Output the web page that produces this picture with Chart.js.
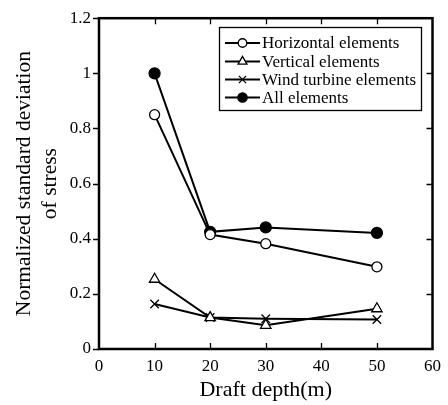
<!DOCTYPE html>
<html>
<head>
<meta charset="utf-8">
<script src="https://cdn.jsdelivr.net/npm/chart.js@4/dist/chart.umd.min.js"></script>
<style>
  html, body { margin: 0; padding: 0; background: #fff; }
  #wrap { width: 448px; height: 405px; }
</style>
</head>
<body>
<div id="wrap"><canvas id="chart" width="448" height="405"></canvas></div>
<script>
  // Draft depth (m) and normalized std of stress
  const depths = [10, 20, 30, 50];
  const horizontal = [0.85, 0.415, 0.382, 0.298];
  const vertical = [0.253, 0.114, 0.086, 0.146];
  const windTurbine = [0.163, 0.114, 0.110, 0.107];
  const allElements = [1.0, 0.425, 0.441, 0.421];

  const seriesLabels = [
    "Horizontal elements",
    "Vertical elements",
    "Wind turbine elements",
    "All elements",
  ];

  const xTicks = [0, 10, 20, 30, 40, 50, 60];
  const yTicks = [0, 0.2, 0.4, 0.6, 0.8, 1, 1.2];

  const SERIF = "'Liberation Serif', 'Times New Roman', serif";

  function toPoints(values) {
    return values.map((v, i) => ({ x: depths[i], y: v }));
  }

  const styles = [
    { pointStyle: "circle", pointRadius: 5, pointBackgroundColor: "#fff" },
    { pointStyle: "triangle", pointRadius: 6, pointBackgroundColor: "#fff" },
    { pointStyle: "crossRot", pointRadius: 6, pointBackgroundColor: "#fff" },
    { pointStyle: "circle", pointRadius: 5.5, pointBackgroundColor: "#000" },
  ];
  const seriesValues = [horizontal, vertical, windTurbine, allElements];

  const datasets = seriesValues.map((vals, i) => ({
    label: seriesLabels[i],
    data: toPoints(vals),
    borderColor: "#000",
    borderWidth: 2,
    pointBorderColor: "#000",
    pointBorderWidth: 1.3,
    pointStyle: styles[i].pointStyle,
    pointRadius: styles[i].pointRadius,
    pointBackgroundColor: styles[i].pointBackgroundColor,
    tension: 0,
    fill: false,
  }));

  // frame + tick marks (inward on top/right/bottom, outward on left)
  const framePlugin = {
    id: "frame",
    afterDraw(chart) {
      const { ctx, chartArea: a, scales } = chart;
      const tl = 6;
      ctx.save();
      ctx.strokeStyle = "#000";
      ctx.lineWidth = 1.3;
      ctx.beginPath();
      xTicks.forEach((v) => {
        const px = Math.round(scales.x.getPixelForValue(v)) + 0.5;
        if (v !== xTicks[0] && v !== xTicks[xTicks.length - 1]) {
          ctx.moveTo(px, a.bottom);
          ctx.lineTo(px, a.bottom - tl);
          ctx.moveTo(px, a.top);
          ctx.lineTo(px, a.top + tl);
        }
      });
      yTicks.forEach((v) => {
        const py = Math.round(scales.y.getPixelForValue(v)) + 0.5;
        ctx.moveTo(a.left, py);
        ctx.lineTo(a.left - tl, py);
        if (v !== yTicks[0] && v !== yTicks[yTicks.length - 1]) {
          ctx.moveTo(a.right, py);
          ctx.lineTo(a.right - tl, py);
        }
      });
      ctx.stroke();
      ctx.lineWidth = 2.5;
      ctx.strokeRect(a.left, a.top, a.right - a.left, a.bottom - a.top);
      ctx.restore();
    },
  };

  // boxed legend inside the plot, upper right
  const legendPlugin = {
    id: "boxLegend",
    afterDraw(chart) {
      const { ctx } = chart;
      const box = { x: 219, y: 27, w: 202, h: 83 };
      const rowY = [43, 61.5, 79.5, 97.5];
      ctx.save();
      ctx.fillStyle = "#fff";
      ctx.fillRect(box.x, box.y, box.w, box.h);
      ctx.strokeStyle = "#000";
      ctx.lineWidth = 1.3;
      ctx.strokeRect(box.x + 0.5, box.y + 0.5, box.w, box.h);
      chart.data.datasets.forEach((ds, i) => {
        const y = rowY[i];
        ctx.lineWidth = 2;
        ctx.strokeStyle = "#000";
        ctx.beginPath();
        ctx.moveTo(225, y);
        ctx.lineTo(260, y);
        ctx.stroke();

        ctx.fillStyle = ds.pointBackgroundColor;
        ctx.lineWidth = ds.pointBorderWidth;
        Chart.helpers.drawPoint(
          ctx,
          {
            pointStyle: ds.pointStyle,
            radius: ds.pointRadius * 0.85,
            borderWidth: ds.pointBorderWidth,
            rotation: 0,
          },
          242.5,
          y
        );

        ctx.fillStyle = "#000";
        ctx.font = "17px " + SERIF;
        ctx.textBaseline = "middle";
        ctx.fillText(ds.label, 262, y + 1);
      });
      ctx.restore();
    },
  };

  const ctx = document.getElementById("chart").getContext("2d");
  new Chart(ctx, {
    type: "line",
    data: { datasets },
    plugins: [framePlugin, legendPlugin],
    options: {
      responsive: false,
      animation: false,
      devicePixelRatio: 1,
      layout: { padding: { top: 14, right: 13, left: 0, bottom: 0 } },
      plugins: {
        legend: { display: false },
        tooltip: { enabled: false },
      },
      scales: {
        x: {
          type: "linear",
          min: 0,
          max: 60,
          afterFit: (s) => { s.height = 56; },
          afterBuildTicks: (s) => { s.ticks = xTicks.map((v) => ({ value: v })); },
          grid: { display: false, drawTicks: false },
          border: { display: false },
          ticks: {
            color: "#000",
            padding: 7,
            maxRotation: 0,
            font: { family: SERIF, size: 17 },
          },
          title: {
            display: true,
            text: "Draft depth(m)",
            color: "#000",
            font: { family: SERIF, size: 22, lineHeight: 1.2 },
            padding: { top: 0, bottom: 2 },
          },
        },
        y: {
          min: 0,
          max: 1.2,
          afterFit: (s) => { s.width = 99; },
          afterBuildTicks: (s) => { s.ticks = yTicks.map((v) => ({ value: v })); },
          grid: { display: false, drawTicks: false },
          border: { display: false },
          ticks: {
            color: "#000",
            padding: 8,
            font: { family: SERIF, size: 17 },
            callback: (v) => String(Math.round(v * 10) / 10),
          },
          title: {
            display: true,
            text: ["Normalized standard deviation", "of stress"],
            color: "#000",
            font: { family: SERIF, size: 21.5, lineHeight: 1.22 },
            padding: { top: 11, bottom: 0 },
          },
        },
      },
    },
  });
</script>
</body>
</html>
